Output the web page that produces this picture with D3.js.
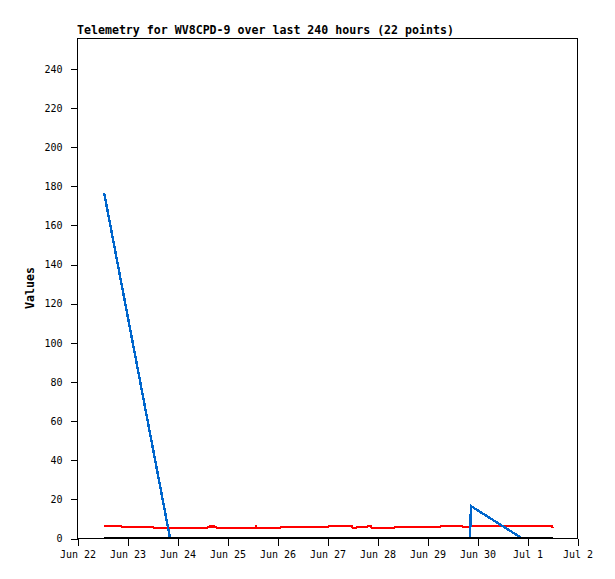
<!DOCTYPE html>
<html>
<head>
<meta charset="utf-8">
<script src="https://cdn.jsdelivr.net/npm/d3@7"></script>
<style>
  html, body { margin: 0; padding: 0; background: #fff; }
  svg { display: block; }
  text { font-family: "DejaVu Sans Mono", "Liberation Mono", monospace; fill: #000; }
</style>
</head>
<body>
<svg id="chart" width="615" height="579"></svg>
<script>
// ---- data ----
const chartTitle = "Telemetry for WV8CPD-9 over last 240 hours (22 points)";
const yLabel = "Values";
const xStart = "2023-06-22 00:00";
const xEnd = "2023-07-02 00:00";
const yTicks = [0, 20, 40, 60, 80, 100, 120, 140, 160, 180, 200, 220, 240];

const redTimes = ["06-22 13:00","06-22 21:07","06-22 22:05","06-23 12:29","06-23 13:26","06-24 13:55","06-24 15:22","06-24 18:14","06-24 19:41","06-25 13:26","06-25 13:55","06-25 14:24","06-26 01:26","06-26 01:55","06-27 00:29","06-27 00:58","06-27 12:00","06-27 12:29","06-27 13:55","06-27 14:24","06-27 19:12","06-27 19:41","06-27 21:07","06-27 21:36","06-28 08:10","06-28 08:38","06-29 06:14","06-29 06:43","06-29 16:48","06-29 17:46","06-29 20:10","06-29 21:07","07-01 12:00","07-01 12:29"];
const redValues = [6.0,6.0,5.5,5.5,5.0,5.0,5.8,5.8,5.0,5.0,5.8,5.0,5.0,5.5,5.5,6.0,6.0,5.0,5.0,5.5,5.5,6.0,6.0,5.0,5.0,5.5,5.5,6.0,6.0,5.5,5.5,6.0,6.0,5.0];

const blueTimes = ["06-22 13:00","06-23 20:38","06-29 20:38","06-29 21:07","06-30 21:22","07-01 12:29"];
const blueValues = [176.5, 0, 0, 16.3, 0, 0];

const blackTimes = ["06-22 13:00","07-01 12:29"];
const blackValues = [0, 0];

// ---- drawing ----
(function () {
const parseFull = d3.utcParse("%Y-%m-%d %H:%M");
const parseShort = s => parseFull("2023-" + s);

const svg = d3.select("#chart");
const pL = 77, pR = 577, pT = 38, pB = 538;

const x = d3.scaleUtc().domain([parseFull(xStart), parseFull(xEnd)]).range([pL, pR]);
const y = d3.scaleLinear().domain([0, 255.5]).range([pB, pT]);

// frame
svg.append("rect")
  .attr("x", pL + 0.5).attr("y", pT + 0.5)
  .attr("width", pR - pL).attr("height", pB - pT)
  .attr("fill", "none").attr("stroke", "#000").attr("stroke-width", 1)
  .attr("shape-rendering", "crispEdges");

// title
svg.append("text")
  .attr("x", pL).attr("y", 34)
  .attr("font-size", "11.6px").attr("font-weight", "bold")
  .text(chartTitle);

// y axis
const yAxis = d3.axisLeft(y).tickValues(yTicks).tickSize(7).tickPadding(8).tickFormat(d3.format("d"));
const gy = svg.append("g").attr("transform", `translate(${pL + 0.5},0.5)`).call(yAxis);
gy.select(".domain").remove();
gy.selectAll("line").attr("stroke", "#000").attr("shape-rendering", "crispEdges");
gy.selectAll("text").attr("font-size", "10px").attr("font-family", '"DejaVu Sans Mono", monospace');

// x axis
const xAxis = d3.axisBottom(x).ticks(d3.utcDay.every(1)).tickSize(7).tickPadding(5).tickFormat(d3.utcFormat("%b %-d"));
const gx = svg.append("g").attr("transform", `translate(0.5,${pB + 0.5})`).call(xAxis);
gx.select(".domain").remove();
gx.selectAll("line").attr("stroke", "#000").attr("shape-rendering", "crispEdges");
gx.selectAll("text").attr("font-size", "10px").attr("font-family", '"DejaVu Sans Mono", monospace');

// y label
svg.append("text")
  .attr("transform", "translate(34,288) rotate(-90)")
  .attr("text-anchor", "middle")
  .attr("font-size", "11.6px").attr("font-weight", "bold")
  .text(yLabel);

// series
const line = d3.line().x(d => x(d.t)).y(d => y(d.v));
function series(times, values, color) {
  const pts = times.map((t, i) => ({ t: parseShort(t), v: values[i] }));
  svg.append("path").datum(pts)
    .attr("d", line)
    .attr("fill", "none").attr("stroke", color).attr("stroke-width", 2.4)
    .attr("shape-rendering", "crispEdges");
}
series(redTimes, redValues, "#ff0000");
series(blueTimes, blueValues, "#0066cc");
series(blackTimes, blackValues, "#000000");
})();
</script>
</body>
</html>
